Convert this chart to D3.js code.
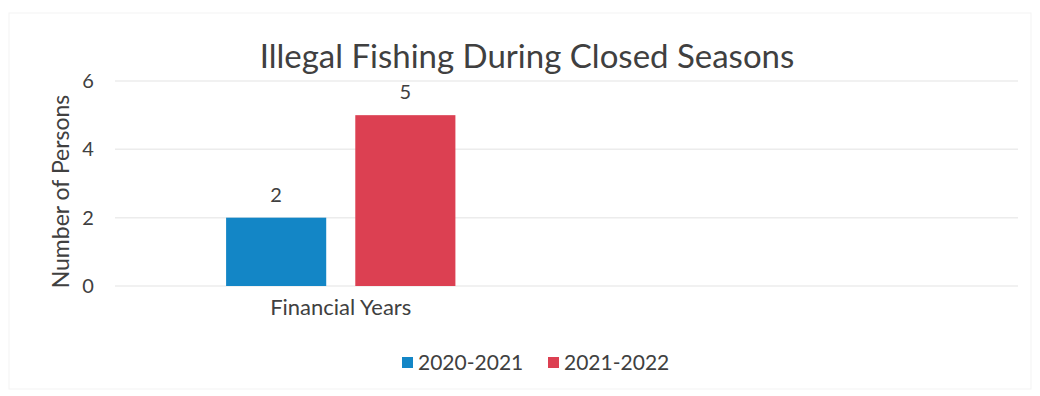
<!DOCTYPE html>
<html>
<head>
<meta charset="utf-8">
<script src="https://cdn.jsdelivr.net/npm/d3@7"></script>
<style>
  body { margin: 0; background: #fff; }
  text { font-family: Lato, "Open Sans", sans-serif; fill: #404040; }
</style>
</head>
<body>
<svg id="chart" width="1040" height="396"></svg>
<script>
// Data
const categories = ['Financial Years', ''];
const seriesNames = ['2020-2021', '2021-2022'];
const seriesValues = [[2], [5]];
const yTicks = [0, 2, 4, 6];
const colors = ['#1386c6', '#dc4052'];

const margin = { top: 81, left: 115, right: 22, bottom: 110 };
const W = 1040, H = 396;

const svg = d3.select('#chart');

// faint chart frame
svg.append('rect')
  .attr('x', 9).attr('y', 13)
  .attr('width', W - 18).attr('height', H - 20)
  .style('fill', 'none')
  .style('stroke', '#f3f3f3');

const x = d3.scaleBand()
  .domain(categories)
  .range([margin.left, W - margin.right]);

// series positions inside the first category
const x1 = d3.scaleBand()
  .domain(seriesNames)
  .range([0, x.bandwidth()])
  .paddingInner(0.225)
  .paddingOuter(0.86);

const y = d3.scaleLinear()
  .domain([0, 6])
  .range([H - margin.bottom, margin.top]);

// gridlines
svg.append('g')
  .selectAll('line')
  .data(yTicks)
  .join('line')
  .attr('x1', margin.left)
  .attr('x2', W - margin.right)
  .attr('y1', d => y(d))
  .attr('y2', d => y(d))
  .style('stroke', '#ececec')
  .style('stroke-width', 1.5);

// y axis labels
const yAxis = svg.append('g')
  .attr('transform', `translate(${margin.left - 27},0)`)
  .call(d3.axisLeft(y).tickValues(yTicks).tickFormat(d3.format('d')).tickSize(0).tickPadding(0));
yAxis.select('.domain').remove();
yAxis.selectAll('text')
  .attr('text-anchor', 'middle')
  .style('font-size', '20px')
  .style('font-family', 'Lato, "Open Sans", sans-serif')
  .style('fill', '#404040');

// x axis labels
const xAxis = svg.append('g')
  .attr('transform', `translate(0,${y(0)})`)
  .call(d3.axisBottom(x).tickSize(0).tickPadding(13));
xAxis.select('.domain').remove();
xAxis.selectAll('text')
  .style('font-size', '22px')
  .style('font-family', 'Lato, "Open Sans", sans-serif')
  .style('fill', '#404040');

// bars
seriesNames.forEach((name, si) => {
  const g = svg.append('g');
  g.selectAll('rect')
    .data(seriesValues[si])
    .join('rect')
    .attr('x', (d, i) => x(categories[i]) + x1(name))
    .attr('width', x1.bandwidth())
    .attr('y', d => y(d))
    .attr('height', d => y(0) - y(d))
    .style('fill', colors[si]);
  g.selectAll('text')
    .data(seriesValues[si])
    .join('text')
    .attr('x', (d, i) => x(categories[i]) + x1(name) + x1.bandwidth() / 2)
    .attr('y', d => y(d) - 16)
    .attr('text-anchor', 'middle')
    .style('font-size', '20px')
    .text(d => d);
});

// title
svg.append('text')
  .attr('x', 527)
  .attr('y', 68)
  .attr('text-anchor', 'middle')
  .style('font-size', '33px')
  .text('Illegal Fishing During Closed Seasons');

// y axis title
svg.append('text')
  .attr('transform', `translate(69,${(y(0) + y(6)) / 2 + 8}) rotate(-90)`)
  .attr('text-anchor', 'middle')
  .style('font-size', '23px')
  .text('Number of Persons');

// legend
const legendItems = [{ x: 402 }, { x: 548 }];
const legend = svg.append('g');
seriesNames.forEach((name, i) => {
  const item = legend.append('g')
    .attr('transform', `translate(${legendItems[i].x},362)`);
  item.append('rect')
    .attr('x', 0).attr('y', -5)
    .attr('width', 11).attr('height', 11)
    .style('fill', colors[i]);
  item.append('text')
    .attr('x', 16)
    .attr('y', 8)
    .style('font-size', '21px')
    .text(name);
});
</script>
</body>
</html>
